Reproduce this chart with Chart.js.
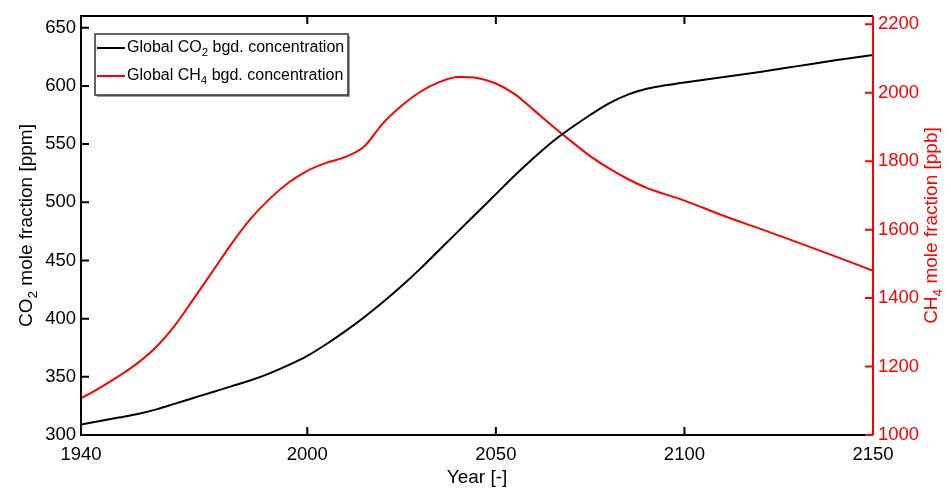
<!DOCTYPE html>
<html>
<head>
<meta charset="utf-8">
<script src="https://cdn.jsdelivr.net/npm/chart.js@4"></script>
<style>
  html, body { margin: 0; padding: 0; background: #fff; }
  #wrap { width: 951px; height: 488px; position: relative; }
</style>
</head>
<body>
<div id="wrap"><canvas id="chart"></canvas></div>
<script>
// values
const years = [1940, 1945, 1950, 1955, 1960, 1965, 1970, 1975, 1980, 1985, 1990, 1995,
  2000, 2005, 2010, 2015, 2020, 2025, 2030, 2035, 2040, 2045, 2050, 2055, 2060, 2065,
  2070, 2075, 2080, 2085, 2090, 2095, 2100, 2110, 2120, 2130, 2140, 2150];
const co2 = [309, 312, 315, 318, 322, 327, 332, 337, 342, 347, 353, 360,
  368, 378, 389, 401, 414, 428, 443, 459, 475, 491, 507, 523, 538, 552,
  564, 575, 585, 592.5, 597.5, 600.5, 603, 607.5, 612, 617, 622, 626.5];
const ch4 = [1107, 1138, 1172, 1210, 1258, 1322, 1400, 1480, 1560, 1632, 1690, 1737,
  1772, 1795, 1812, 1842, 1910, 1962, 2003, 2031, 2046, 2043, 2027, 1996, 1950, 1903,
  1858, 1815, 1779, 1748, 1722, 1703, 1685, 1642, 1603, 1563, 1522, 1480];
const xTicks = [1940, 2000, 2050, 2100, 2150];
const co2Ticks = [300, 350, 400, 450, 500, 550, 600, 650];
const ch4Ticks = [1000, 1200, 1400, 1600, 1800, 2000, 2200];

const RED = '#ff0000';
const FONT = '"Liberation Sans", Arial, sans-serif';

function setTicks(list) {
  return scale => { scale.ticks = list.map(v => ({ value: v })); };
}
const plain = v => String(v);

// text with a subscript part: parts = [[text, isSub], ...]
function drawRich(ctx, parts, x, y, size, align) {
  const subSize = size * 0.72;
  let total = 0;
  parts.forEach(p => {
    ctx.font = (p[1] ? subSize : size) + 'px ' + FONT;
    total += ctx.measureText(p[0]).width;
  });
  let cx = align === 'center' ? x - total / 2 : x;
  ctx.textAlign = 'left';
  parts.forEach(p => {
    ctx.font = (p[1] ? subSize : size) + 'px ' + FONT;
    ctx.fillText(p[0], cx, p[1] ? y + size * 0.33 : y);
    cx += ctx.measureText(p[0]).width;
  });
}

const framePlugin = {
  id: 'frame',
  afterDraw(chart) {
    const ctx = chart.ctx;
    const a = chart.chartArea;
    const x = chart.scales.x, yl = chart.scales.y, yr = chart.scales.y2;
    const tl = 8;
    ctx.save();
    // black frame (top, left, bottom)
    ctx.strokeStyle = '#000';
    ctx.lineWidth = 2;
    ctx.beginPath();
    ctx.moveTo(a.right, a.top); ctx.lineTo(a.left, a.top);
    ctx.lineTo(a.left, a.bottom); ctx.lineTo(a.right, a.bottom);
    ctx.stroke();
    // inner ticks on x (bottom and top) and left y
    ctx.beginPath();
    x.ticks.forEach(t => {
      const px = x.getPixelForValue(t.value);
      ctx.moveTo(px, a.bottom); ctx.lineTo(px, a.bottom - tl);
      ctx.moveTo(px, a.top); ctx.lineTo(px, a.top + tl);
    });
    yl.ticks.forEach(t => {
      const py = yl.getPixelForValue(t.value);
      ctx.moveTo(a.left, py); ctx.lineTo(a.left + tl, py);
    });
    ctx.stroke();
    // red right axis
    ctx.strokeStyle = RED;
    ctx.beginPath();
    ctx.moveTo(a.right, a.top); ctx.lineTo(a.right, a.bottom);
    yr.ticks.forEach(t => {
      const py = yr.getPixelForValue(t.value);
      ctx.moveTo(a.right, py); ctx.lineTo(a.right - tl, py);
    });
    ctx.stroke();

    // axis titles
    ctx.textBaseline = 'middle';
    ctx.fillStyle = '#000';
    drawRich(ctx, [['Year [-]', false]], (a.left + a.right) / 2, 478, 19, 'center');
    const cy = (a.top + a.bottom) / 2;
    ctx.save();
    ctx.translate(27, cy);
    ctx.rotate(-Math.PI / 2);
    drawRich(ctx, [['CO', false], ['2', true], [' mole fraction [ppm]', false]], 0, 0, 19, 'center');
    ctx.restore();
    ctx.save();
    ctx.fillStyle = RED;
    ctx.translate(932, cy);
    ctx.rotate(-Math.PI / 2);
    drawRich(ctx, [['CH', false], ['4', true], [' mole fraction [ppb]', false]], 0, 0, 19, 'center');
    ctx.restore();

    // legend
    const bx = 95, by = 34, bw = 253, bh = 61;
    ctx.fillStyle = '#9a9a9a';
    ctx.fillRect(bx + 2, by + 2, bw, bh);
    ctx.fillStyle = '#fff';
    ctx.fillRect(bx, by, bw, bh);
    ctx.strokeStyle = '#333';
    ctx.lineWidth = 1.5;
    ctx.strokeRect(bx, by, bw, bh);
    const rows = [
      { color: '#000', parts: [['Global CO', false], ['2', true], [' bgd. concentration', false]], y: 48 },
      { color: RED, parts: [['Global CH', false], ['4', true], [' bgd. concentration', false]], y: 76 }
    ];
    rows.forEach(r => {
      ctx.strokeStyle = r.color;
      ctx.lineWidth = 2;
      ctx.beginPath();
      ctx.moveTo(97, r.y); ctx.lineTo(125, r.y);
      ctx.stroke();
      ctx.fillStyle = '#000';
      drawRich(ctx, r.parts, 127, r.y, 16, 'left');
    });
    ctx.restore();
  }
};

const ctx = document.getElementById('chart').getContext('2d');
new Chart(ctx, {
  type: 'line',
  data: {
    datasets: [
      {
        label: 'Global CO2 bgd. concentration',
        data: years.map((yr, i) => ({ x: yr, y: co2[i] })),
        borderColor: '#000',
        borderWidth: 2,
        pointRadius: 0,
        cubicInterpolationMode: 'monotone',
        yAxisID: 'y'
      },
      {
        label: 'Global CH4 bgd. concentration',
        data: years.map((yr, i) => ({ x: yr, y: ch4[i] })),
        borderColor: RED,
        borderWidth: 2,
        pointRadius: 0,
        cubicInterpolationMode: 'monotone',
        yAxisID: 'y2'
      }
    ]
  },
  options: {
    responsive: true,
    maintainAspectRatio: false,
    animation: false,
    events: [],
    layout: { padding: { top: 14, left: 0, right: 0, bottom: 0 } },
    plugins: { legend: { display: false }, tooltip: { enabled: false } },
    scales: {
      x: {
        type: 'linear',
        min: 1940,
        max: 2150,
        afterBuildTicks: setTicks(xTicks),
        afterFit: s => { s.height = 53; },
        grid: { display: false, drawTicks: false },
        border: { display: false },
        ticks: { color: '#000', padding: 9, maxRotation: 0, callback: plain, font: { family: FONT, size: 18.5 } }
      },
      y: {
        position: 'left',
        min: 300,
        max: 660,
        afterBuildTicks: setTicks(co2Ticks),
        afterFit: s => { s.width = 81; },
        grid: { display: false, drawTicks: false },
        border: { display: false },
        ticks: { color: '#000', padding: 5, callback: plain, font: { family: FONT, size: 18.5 } }
      },
      y2: {
        position: 'right',
        min: 1000,
        max: 2224,
        afterBuildTicks: setTicks(ch4Ticks),
        afterFit: s => { s.width = 78; },
        grid: { display: false, drawTicks: false },
        border: { display: false },
        ticks: { color: RED, padding: 5, callback: plain, font: { family: FONT, size: 18.5 } }
      }
    }
  },
  plugins: [framePlugin]
});
</script>
</body>
</html>
